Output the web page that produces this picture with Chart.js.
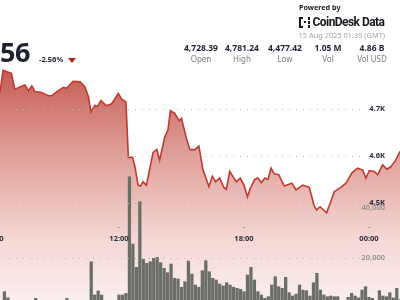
<!DOCTYPE html>
<html>
<head>
<meta charset="utf-8">
<script src="https://cdn.jsdelivr.net/npm/chart.js@4.4.1/dist/chart.umd.min.js"></script>
<style>
  html, body { margin: 0; padding: 0; width: 400px; height: 300px; overflow: hidden; background: #fff; }
  body { font-family: 'Noto Sans', sans-serif; color: #1e2230; }
  #wrap { position: absolute; left: 0; top: 0; width: 400px; height: 313px; }
  .t { position: absolute; white-space: nowrap; line-height: 1; }
  .stat { position: absolute; width: 60px; text-align: center; line-height: 1; }
  .stat b { display: block; font-size: 8.5px; font-weight: 700; color: #1e2230; }
  .stat span { display: block; font-size: 8px; color: #7c7c7c; margin-top: 2.5px; }
  .px { position: absolute; background: #16181d; }
</style>
</head>
<body>
<div id="wrap"><canvas id="chart" width="400" height="313"></canvas></div>

<div class="t" style="right:370px; top:37.5px; font-size:27px; font-weight:700; letter-spacing:-0.5px;">4,607.56</div>
<div class="t" style="left:39px; top:56.3px; font-size:7.5px; font-weight:700;">-2.56%</div>
<div style="position:absolute; left:68px; top:57.5px; width:0; height:0; border-left:4px solid transparent; border-right:4px solid transparent; border-top:5.5px solid #b3211c;"></div>

<div class="t" style="left:299px; top:3.5px; font-size:7.2px; font-weight:700; color:#16181d;">Powered by</div>
<div class="px" style="left:299px; top:17px; width:2px; height:10.5px;"></div>
<div class="px" style="left:299px; top:17px; width:4px; height:2px;"></div>
<div class="px" style="left:299px; top:25.5px; width:4px; height:2px;"></div>
<div class="px" style="left:304px; top:21px; width:2px; height:2px;"></div>
<div class="px" style="left:307.5px; top:17px; width:2.5px; height:2.5px;"></div>
<div class="px" style="left:307.5px; top:21px; width:2.5px; height:2.5px;"></div>
<div class="px" style="left:307.5px; top:25px; width:2.5px; height:2.5px;"></div>
<div class="t" style="left:312.5px; top:16px; font-family:Roboto, sans-serif; font-size:12px; font-weight:700; letter-spacing:-0.55px; color:#16181d;">CoinDesk Data</div>
<div class="t" style="right:15px; top:31.5px; font-size:7.4px; color:#a3a3a3;">15 Aug 2025 01:39 (GMT)</div>

<div class="stat" style="left:171px; top:43.5px;"><b>4,728.39</b><span>Open</span></div>
<div class="stat" style="left:212px; top:43.5px;"><b>4,781.24</b><span>High</span></div>
<div class="stat" style="left:255px; top:43.5px;"><b>4,477.42</b><span>Low</span></div>
<div class="stat" style="left:298px; top:43.5px;"><b>1.05 M</b><span>Vol</span></div>
<div class="stat" style="left:342px; top:43.5px;"><b>4.86 B</b><span>Vol USD</span></div>

<script>
// price trace, times in GMT (14 -> 15 Aug 2025)
const priceTimes = ['06:05','06:17','06:26','06:50','07:00','07:15','07:29','07:39','07:49','07:58',
  '08:17','08:36','08:46','09:01','09:20','09:29','09:48','10:08','10:22','10:32',
  '10:39','10:51','10:58','11:08','11:23','11:39','11:58','12:08','12:20','12:27',
  '12:39','12:46','12:55','13:02','13:09','13:19','13:38','13:49','13:57','14:12',
  '14:21','14:28','14:40','14:53','15:00','15:14','15:24','15:38','15:50','16:02',
  '16:19','16:29','16:38','16:50','17:02','17:09','17:19','17:31','17:38','17:49',
  '18:00','18:10','18:18','18:31','18:40','18:50','19:00','19:09','19:18','19:27',
  '19:40','19:56','20:18','20:30','20:49','21:08','21:22','21:29','21:39','21:58',
  '22:10','22:20','22:39','22:54','23:11','23:27','23:42','23:51','00:01','00:15',
  '00:25','00:39','00:51','01:03','01:17','01:29','01:39'];
const priceValues = [4726,4733,4781,4775,4741,4746,4750,4738,4748,4736,
  4734,4727,4727,4736,4745,4743,4758,4757,4746,4725,
  4693,4707,4704,4717,4706,4710,4732,4720,4714,4596,
  4596,4576,4537,4535,4544,4537,4606,4613,4590,4640,
  4654,4695,4690,4674,4679,4637,4613,4612,4620,4569,
  4534,4556,4544,4552,4532,4528,4566,4552,4544,4552,
  4537,4512,4530,4549,4552,4542,4552,4549,4573,4561,
  4559,4535,4541,4527,4537,4532,4493,4484,4491,4478,
  4502,4523,4532,4541,4563,4573,4569,4552,4568,4566,
  4559,4580,4571,4576,4590,4608,4607.56];

// 10 minute volume buckets starting 06:20
const volumeStart = '06:20';
const volumeValues = [3000,7750,5560,2500,3000,2200,2800,3400,2600,3900,
  5300,3100,2400,2900,3600,2700,2300,3300,3800,5300,
  3000,2500,3200,4200,3600,4400,18650,6550,8000,6550,
  4300,3800,4100,4500,6550,6550,7160,49560,25090,16600,
  40470,19530,18070,18650,19890,20250,18290,16250,14650,17820,
  12620,12360,9350,11380,18900,14180,10180,9350,15380,19020,
  15020,12620,12000,10550,9820,11020,10180,9350,8980,8620,
  7750,13820,16620,12000,7750,6550,5350,5930,10180,13200,
  9560,8980,12980,7380,6180,6910,10180,8360,8110,6180,
  11020,14440,8360,6550,5930,6180,5930,5930,4200,3900,
  5700,7160,6180,5500,8360,9560,5700,5350,4300,8110,
  6180,5930,7380,5500,8980,5000];

const priceTicks = [4500, 4600, 4700];
const volumeTicks = [20000, 40000];
const timeTicks = ['06:00', '12:00', '18:00', '00:00'];

function toMinutes(s) {
  const [h, m] = s.split(':').map(Number);
  return (h < 6 ? h + 24 : h) * 60 + m;
}

const priceData = priceTimes.map((t, i) => ({ x: toMinutes(t), y: priceValues[i] }));
const volumeData = volumeValues.map((v, i) => ({ x: toMinutes(volumeStart) + i * 10, y: v }));

// gridlines and tick labels sit inside the plot, drawn from the scales
const overlay = {
  id: 'overlay',
  afterDatasetsDraw(chart) {
    const { ctx, scales } = chart;
    ctx.save();
    ctx.strokeStyle = '#b9b9b9';
    ctx.lineWidth = 1;
    ctx.setLineDash([1, 6]);
    const gridLine = y => {
      const yy = Math.round(y) + 0.5;
      ctx.beginPath();
      ctx.moveTo(2, yy);
      ctx.lineTo(361, yy);
      ctx.stroke();
    };
    priceTicks.forEach(v => gridLine(scales.price.getPixelForValue(v)));
    volumeTicks.forEach(v => gridLine(scales.vol.getPixelForValue(v)));
    ctx.setLineDash([]);

    ctx.textAlign = 'right';
    ctx.textBaseline = 'middle';
    ctx.font = '700 7.5px "Noto Sans"';
    ctx.fillStyle = '#2a2e3a';
    const taken = [];
    priceTicks.forEach(v => {
      const y = scales.price.getPixelForValue(v);
      ctx.fillText((v / 1000).toFixed(1) + 'K', 385, y);
      taken.push(y);
    });
    ctx.font = '600 7.5px "Noto Sans"';
    ctx.fillStyle = '#8e8e8e';
    volumeTicks.forEach(v => {
      let y = scales.vol.getPixelForValue(v);
      if (taken.some(u => Math.abs(u - y) < 6)) y += 5; // keep clear of the price label
      ctx.fillText(v.toLocaleString('en-US'), 385, y);
    });

    ctx.textAlign = 'center';
    ctx.font = '700 7.5px "Noto Sans"';
    timeTicks.forEach(t => {
      const px = scales.x.getPixelForValue(toMinutes(t));
      ctx.fillStyle = '#9a9a9a';
      ctx.fillRect(Math.round(px) - 1, 227, 2, 1);
      ctx.fillStyle = '#2a2e3a';
      ctx.fillText(t, px, 239);
    });
    ctx.restore();
  }
};

function priceFill(context) {
  const c = context.chart.ctx;
  const g = c.createLinearGradient(0, 70, 0, 313);
  g.addColorStop(0, 'rgb(197,92,84)');
  g.addColorStop(0.35, 'rgb(224,160,155)');
  g.addColorStop(0.7, 'rgb(244,216,213)');
  g.addColorStop(1, 'rgb(252,243,243)');
  return g;
}

new Chart(document.getElementById('chart'), {
  type: 'line',
  data: {
    datasets: [
      {
        type: 'bar',
        data: volumeData,
        yAxisID: 'vol',
        backgroundColor: '#6a6e67',
        borderWidth: 0,
        barThickness: 2.6,
        order: 0
      },
      {
        type: 'line',
        data: priceData,
        yAxisID: 'price',
        borderColor: '#c23a2e',
        borderWidth: 1.6,
        pointRadius: 0,
        tension: 0,
        fill: 'start',
        backgroundColor: priceFill,
        order: 1
      }
    ]
  },
  options: {
    responsive: false,
    animation: false,
    layout: { padding: 0 },
    plugins: { legend: { display: false }, tooltip: { enabled: false } },
    scales: {
      x: { type: 'linear', min: 377.3, max: 1529.3, offset: false, display: false },
      price: { type: 'linear', position: 'right', min: 4264.9, max: 4930.85, display: false },
      vol: { type: 'linear', position: 'left', min: 0, max: 113818, display: false }
    }
  },
  plugins: [overlay]
});
</script>
</body>
</html>
